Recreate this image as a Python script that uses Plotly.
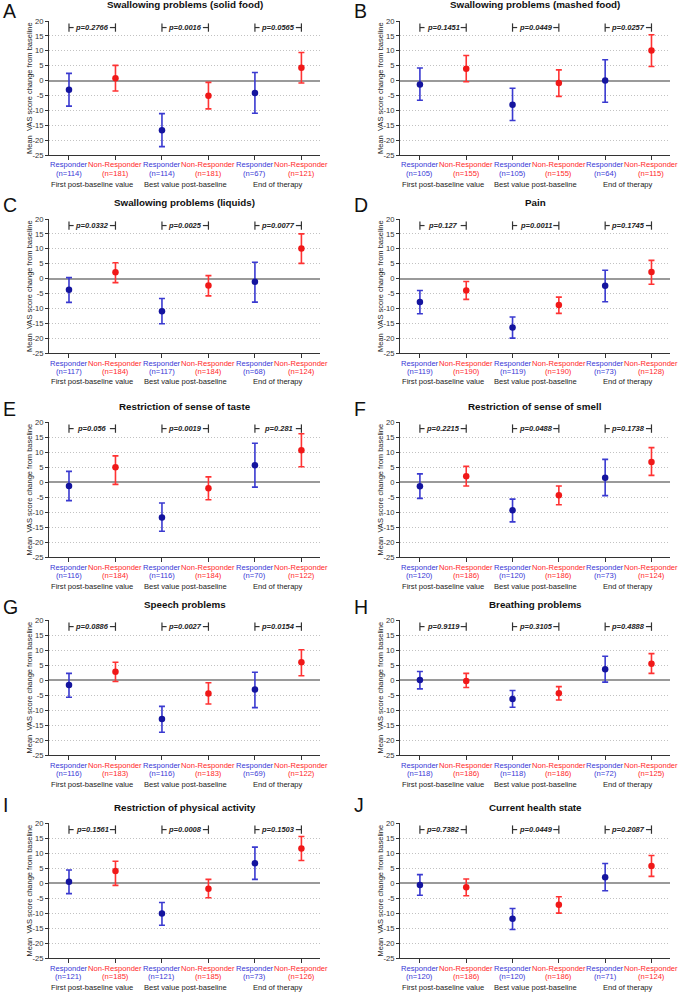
import plotly.graph_objects as go

W, H = 680, 992

titles = [
    "Swallowing problems (solid food)",
    "Swallowing problems (mashed food)",
    "Swallowing problems (liquids)",
    "Pain",
    "Restriction of sense of taste",
    "Restriction of sense of smell",
    "Speech problems",
    "Breathing problems",
    "Restriction of physical activity",
    "Current health state",
]
letters = ["A", "B", "C", "D", "E", "F", "G", "H", "I", "J"]
groups = ["First post-baseline value", "Best value post-baseline", "End of therapy"]
arm_names = ["Responder", "Non-Responder", "Responder", "Non-Responder", "Responder", "Non-Responder"]

# means / upper / lower CI per panel (order: R, NR, R, NR, R, NR)
mean_A = [-3.1, 0.8, -16.7, -5.1, -4.2, 4.3]
hi_A = [2.4, 5.1, -11.1, -0.6, 2.7, 9.4]
lo_A = [-8.6, -3.5, -22.2, -9.5, -11.0, -0.8]

mean_B = [-1.3, 4.0, -8.1, -0.8, 0.0, 10.1]
hi_B = [4.2, 8.4, -2.6, 3.6, 7.0, 15.4]
lo_B = [-6.6, -0.4, -13.4, -5.3, -7.3, 4.7]

mean_C = [-3.8, 2.1, -11.0, -2.3, -1.1, 10.1]
hi_C = [0.3, 5.3, -6.7, 1.0, 5.5, 15.0]
lo_C = [-8.0, -1.35, -15.2, -5.8, -7.9, 5.1]

mean_D = [-7.9, -4.0, -16.4, -8.9, -2.45, 2.2]
hi_D = [-4.0, -1.0, -12.9, -6.25, 2.8, 6.1]
lo_D = [-11.8, -7.0, -20.0, -11.7, -7.8, -1.9]

mean_E = [-1.3, 4.9, -11.8, -2.1, 5.55, 10.55]
hi_E = [3.55, 8.7, -7.0, 1.7, 12.9, 16.1]
lo_E = [-6.2, -0.8, -16.4, -5.9, -1.7, 5.1]

mean_F = [-1.4, 1.9, -9.45, -4.45, 1.45, 6.65]
hi_F = [2.7, 5.2, -5.7, -1.35, 7.55, 11.45]
lo_F = [-5.45, -1.35, -13.3, -7.6, -4.55, 2.2]

mean_G = [-1.7, 2.75, -13.0, -4.5, -3.2, 5.9]
hi_G = [2.2, 5.9, -8.8, -0.9, 2.6, 10.1]
lo_G = [-5.75, -0.5, -17.4, -8.0, -9.2, 1.4]

mean_H = [0.0, -0.3, -6.3, -4.4, 3.55, 5.45]
hi_H = [2.85, 2.2, -3.5, -2.2, 7.9, 8.8]
lo_H = [-2.95, -2.5, -9.1, -6.65, -0.7, 2.2]

mean_I = [0.45, 4.0, -10.15, -1.9, 6.6, 11.5]
hi_I = [4.35, 7.25, -6.5, 1.2, 11.95, 15.5]
lo_I = [-3.55, -0.8, -14.1, -4.9, 1.2, 7.5]

mean_J = [-0.7, -1.45, -11.95, -7.25, 1.9, 5.7]
hi_J = [2.8, 1.35, -8.5, -4.6, 6.5, 9.15]
lo_J = [-4.1, -4.25, -15.5, -10.05, -2.6, 2.2]

n_A = [114, 181, 114, 181, 67, 121]
n_B = [105, 155, 105, 155, 64, 115]
n_C = [117, 184, 117, 184, 68, 124]
n_D = [119, 190, 119, 190, 73, 128]
n_E = [116, 184, 116, 184, 70, 122]
n_F = [120, 186, 120, 186, 73, 124]
n_G = [116, 183, 116, 183, 69, 122]
n_H = [118, 186, 118, 186, 72, 125]
n_I = [121, 185, 121, 185, 73, 126]
n_J = [120, 186, 120, 186, 71, 124]

p_A = ["0.2766", "0.0016", "0.0565"]
p_B = ["0.1451", "0.0449", "0.0257"]
p_C = ["0.0332", "0.0025", "0.0077"]
p_D = ["0.127", "0.0011", "0.1745"]
p_E = ["0.056", "0.0019", "0.281"]
p_F = ["0.2215", "0.0488", "0.1738"]
p_G = ["0.0886", "0.0027", "0.0154"]
p_H = ["0.9119", "0.3105", "0.4888"]
p_I = ["0.1561", "0.0008", "0.1503"]
p_J = ["0.7382", "0.0449", "0.2087"]

y_ticks = [20, 15, 10, 5, 0, -5, -10, -15, -20, -25]
y_tick_text = ["20", "15", "10", "5", "0", "-5", "-10", "-15", "-20", "-25"]

panels = [
    (mean_A, hi_A, lo_A, n_A, p_A),
    (mean_B, hi_B, lo_B, n_B, p_B),
    (mean_C, hi_C, lo_C, n_C, p_C),
    (mean_D, hi_D, lo_D, n_D, p_D),
    (mean_E, hi_E, lo_E, n_E, p_E),
    (mean_F, hi_F, lo_F, n_F, p_F),
    (mean_G, hi_G, lo_G, n_G, p_G),
    (mean_H, hi_H, lo_H, n_H, p_H),
    (mean_I, hi_I, lo_I, n_I, p_I),
    (mean_J, hi_J, lo_J, n_J, p_J),
]

# ---- layout geometry (pixels) ----
row_px = [(21, 155), (219, 353), (422, 557), (620, 755), (823, 958)]
col_px = [(49, 320), (400, 670)]
letter_y = [10, 204, 408, 606, 804]
letter_x = [1, 352]

FONT = "Arial, Liberation Sans, sans-serif"
BLUE_M = "#14149e"
BLUE_E = "#3a3ad0"
RED_M = "#f01818"
RED_E = "#ff3333"
BLUE_T = "#3838d6"
RED_T = "#ff2828"
AX = "#333333"


def py(p):
    return 1 - p / H


def px(p):
    return p / W


fig = go.Figure()
annotations = []
shapes = []
layout = {}

for i, (mean, hi, lo, nn, pv) in enumerate(panels):
    k = i + 1
    r, c = divmod(i, 2)
    top, bot = row_px[r]
    left, right = col_px[c]
    xa = "x" if k == 1 else f"x{k}"
    ya = "y" if k == 1 else f"y{k}"
    xkey = "xaxis" if k == 1 else f"xaxis{k}"
    ykey = "yaxis" if k == 1 else f"yaxis{k}"

    layout[xkey] = dict(
        domain=[px(left), px(right)], anchor=ya, range=[-0.43, 5.4],
        tickvals=[0, 1, 2, 3, 4, 5], showticklabels=False, ticks="outside",
        ticklen=4, tickcolor=AX, tickwidth=1, showline=True, linecolor=AX,
        linewidth=1, showgrid=False, zeroline=False, fixedrange=True,
        automargin=False,
    )
    layout[ykey] = dict(
        domain=[py(bot), py(top)], anchor=xa, range=[-25, 20],
        tickvals=y_ticks, ticktext=y_tick_text, ticks="outside", ticklen=3,
        tickcolor=AX, tickwidth=1,
        showline=True, linecolor=AX, linewidth=1,
        showgrid=True, gridcolor="#c2c2c2", griddash="1px,2px", gridwidth=1,
        zeroline=True, zerolinecolor="#9a9a9a", zerolinewidth=2,
        tickfont=dict(size=7.6, color="#333", family=FONT), fixedrange=True,
        automargin=False,
    )

    for arm, (mc, ec) in enumerate([(BLUE_M, BLUE_E), (RED_M, RED_E)]):
        idx = [j for j in range(6) if j % 2 == arm]
        ys = [mean[j] for j in idx]
        up = [hi[j] - mean[j] for j in idx]
        dn = [mean[j] - lo[j] for j in idx]
        fig.add_trace(go.Scatter(
            x=idx, y=ys, mode="markers", xaxis=xa, yaxis=ya, showlegend=False,
            marker=dict(color=mc, size=6.5, line=dict(width=0)),
            error_y=dict(type="data", symmetric=False, array=up, arrayminus=dn,
                         color=ec, thickness=1.6, width=3),
        ))

    # title
    annotations.append(dict(
        text=f"<b>{titles[i]}</b>", xref="paper", yref="paper",
        x=px((left + right) / 2), y=py(top - 16), xanchor="center", yanchor="middle",
        showarrow=False, font=dict(size=9.8, color="#111", family=FONT),
    ))
    # panel letter
    annotations.append(dict(
        text=letters[i], xref="paper", yref="paper",
        x=px(letter_x[c]), y=py(letter_y[r] + 1), xanchor="left", yanchor="middle",
        showarrow=False, font=dict(size=19.5, color="#111", family=FONT),
    ))
    # y title
    annotations.append(dict(
        text="Mean\u00a0 VAS score change from baseline", xref="paper", yref="paper",
        x=px(left - 20), y=py((top + bot) / 2), xanchor="center", yanchor="middle",
        textangle=-90, showarrow=False, font=dict(size=7.5, color="#222", family=FONT),
    ))
    # x tick labels
    for j in range(6):
        col = BLUE_T if j % 2 == 0 else RED_T
        annotations.append(dict(
            text=arm_names[j], xref=xa, yref="paper", x=j, y=py(bot + 10),
            xanchor="center", yanchor="middle", showarrow=False,
            font=dict(size=7.6, color=col, family=FONT),
        ))
        annotations.append(dict(
            text=f"(n={nn[j]})", xref=xa, yref="paper", x=j, y=py(bot + 18.5),
            xanchor="center", yanchor="middle", showarrow=False,
            font=dict(size=7.6, color=col, family=FONT),
        ))
    for g in range(3):
        annotations.append(dict(
            text=groups[g], xref=xa, yref="paper", x=2 * g + 0.5, y=py(bot + 29),
            xanchor="center", yanchor="middle", showarrow=False,
            font=dict(size=7.6, color="#222", family=FONT),
        ))
        # p-value bracket
        x0, x1 = 2 * g, 2 * g + 1
        yb = 17.8
        for xv in (x0, x1):
            shapes.append(dict(type="line", xref=xa, yref=ya, x0=xv, x1=xv,
                               y0=yb - 1.4, y1=yb + 1.4, line=dict(color=AX, width=1.2)))
        shapes.append(dict(type="line", xref=xa, yref=ya, x0=x0, x1=x0 + 0.1,
                           y0=yb, y1=yb, line=dict(color=AX, width=1.2)))
        shapes.append(dict(type="line", xref=xa, yref=ya, x0=x1 - 0.12, x1=x1,
                           y0=yb, y1=yb, line=dict(color=AX, width=1.2)))
        annotations.append(dict(
            text=f"<b><i>p={pv[g]}</i></b>", xref=xa, yref=ya, x=x0 + 0.5, y=yb,
            xanchor="center", yanchor="middle", showarrow=False,
            font=dict(size=7.5, color="#222", family=FONT),
        ))

fig.update_layout(
    template="none",
    width=W, height=H, margin=dict(l=0, r=0, t=0, b=0, pad=0),
    paper_bgcolor="white", plot_bgcolor="white",
    font=dict(family=FONT),
    annotations=annotations, shapes=shapes, **layout,
)

fig.write_html(
    "out.html",
    config={"displayModeBar": False, "staticPlot": True},
    post_script="document.body.style.margin='0px';document.body.style.overflow='hidden';",
)
